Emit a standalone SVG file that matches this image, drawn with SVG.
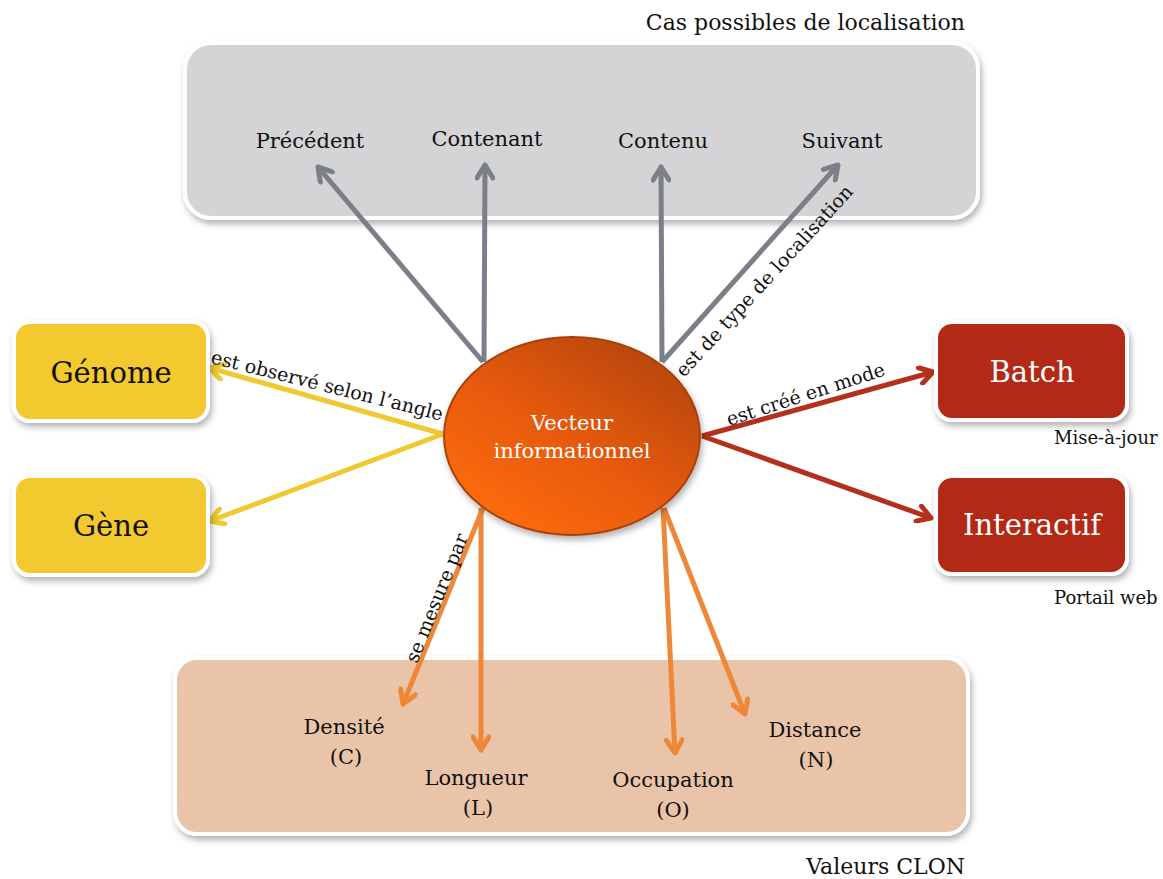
<svg xmlns="http://www.w3.org/2000/svg" width="1163" height="879" viewBox="0 0 1163 879">
<style>
text{font-family:"DejaVu Serif","Liberation Serif",serif;fill:#111;}
.lbl{font-size:21px;text-anchor:middle;}
.edge{font-size:19px;}
.sub{font-size:18px;}
.cap{font-size:22px;}
.wt{fill:#fff;}
.big{font-size:29px;text-anchor:middle;}
.box{stroke:#fff;stroke-width:4;filter:url(#sh);}
.gray{stroke:#7b7f87;stroke-width:5;fill:none;marker-end:url(#mG);}
.yel{stroke:#f0c832;stroke-width:5;fill:none;marker-end:url(#mY);}
.red{stroke:#b5301c;stroke-width:5;fill:none;marker-end:url(#mR);}
.ora{stroke:#ee8838;stroke-width:5;fill:none;marker-end:url(#mO);}
</style>
<defs>
<filter id="sh" x="-10%" y="-10%" width="130%" height="140%">
<feDropShadow dx="2" dy="4" stdDeviation="3" flood-color="#000" flood-opacity="0.3"/>
</filter>
<linearGradient id="eg" x1="0.2" y1="0.9" x2="0.85" y2="0.1">
<stop offset="0" stop-color="#fb6a0a"/>
<stop offset="0.45" stop-color="#e85a08"/>
<stop offset="1" stop-color="#b8470c"/>
</linearGradient>
<marker id="mG" viewBox="0 0 20 20" refX="17" refY="10" markerWidth="20" markerHeight="20" markerUnits="userSpaceOnUse" orient="auto"><path d="M4,2 L17,10 L4,18" fill="none" stroke="#7b7f87" stroke-width="5" stroke-linecap="round" stroke-linejoin="round"/></marker>
<marker id="mY" viewBox="0 0 20 20" refX="17" refY="10" markerWidth="20" markerHeight="20" markerUnits="userSpaceOnUse" orient="auto"><path d="M4,2 L17,10 L4,18" fill="none" stroke="#f0c832" stroke-width="5" stroke-linecap="round" stroke-linejoin="round"/></marker>
<marker id="mR" viewBox="0 0 20 20" refX="17" refY="10" markerWidth="20" markerHeight="20" markerUnits="userSpaceOnUse" orient="auto"><path d="M4,2 L17,10 L4,18" fill="none" stroke="#b5301c" stroke-width="5" stroke-linecap="round" stroke-linejoin="round"/></marker>
<marker id="mO" viewBox="0 0 20 20" refX="17" refY="10" markerWidth="20" markerHeight="20" markerUnits="userSpaceOnUse" orient="auto"><path d="M4,2 L17,10 L4,18" fill="none" stroke="#ee8838" stroke-width="5" stroke-linecap="round" stroke-linejoin="round"/></marker>
</defs>
<rect width="1163" height="879" fill="#fff"/>

<g id="groupe-localisation">
<rect x="185" y="43" width="793" height="175" rx="26" fill="#d4d4d6" class="box"/>
<text class="cap" x="965" y="30" text-anchor="end">Cas possibles de localisation</text>
</g>
<g id="groupe-clon">
<rect x="175" y="658" width="793" height="176" rx="22" fill="#e9c4a9" class="box"/>
<text class="cap" x="965" y="874" text-anchor="end">Valeurs CLON</text>
</g>

<g id="connecteurs">
<path class="gray" d="M483,362 L318,167"/>
<path class="gray" d="M484,362 L485,165"/>
<path class="gray" d="M662,362 L661,167"/>
<path class="gray" d="M662,362 L838,165"/>
<path class="yel" d="M443,434 L210,368"/>
<path class="yel" d="M443,434 L210,521"/>
<path class="red" d="M702,436 L933,372"/>
<path class="red" d="M702,436 L931,518"/>
<path class="ora" d="M483,508 L403,704"/>
<path class="ora" d="M481,508 L481,750"/>
<path class="ora" d="M663,508 L675,753"/>
<path class="ora" d="M664,508 L745,714"/>
<text class="edge" transform="translate(684,378) rotate(-47.5)">est de type de localisation</text>
<text class="edge" transform="translate(210,363) rotate(14)">est observé selon l’angle</text>
<text class="edge" transform="translate(729,426) rotate(-18)">est créé en mode</text>
<text class="edge" transform="translate(417,664) rotate(-68)">se mesure par</text>
</g>

<g id="precedent"><text class="lbl" x="310" y="148">Précédent</text></g>
<g id="contenant"><text class="lbl" x="487" y="146">Contenant</text></g>
<g id="contenu"><text class="lbl" x="663" y="148">Contenu</text></g>
<g id="suivant"><text class="lbl" x="842" y="148">Suivant</text></g>

<g id="vecteur">
<ellipse cx="572" cy="436" rx="128" ry="99" fill="url(#eg)" stroke="#a8420c" stroke-width="2" filter="url(#sh)"/>
<text class="lbl wt" x="572" y="430">Vecteur</text>
<text class="lbl wt" x="572" y="458">informationnel</text>
</g>

<g id="genome">
<rect x="14" y="322" width="194" height="99" rx="16" fill="#f2c92f" class="box"/>
<text class="big" x="111" y="383">Génome</text>
</g>
<g id="gene">
<rect x="14" y="476" width="194" height="99" rx="16" fill="#f2c92f" class="box"/>
<text class="big" x="111" y="536">Gène</text>
</g>
<g id="batch">
<rect x="936" y="322" width="191" height="98" rx="16" fill="#b22b17" class="box"/>
<text class="big wt" x="1032" y="382">Batch</text>
<text class="sub" x="1054" y="444">Mise-à-jour</text>
</g>
<g id="interactif">
<rect x="936" y="476" width="191" height="98" rx="16" fill="#b22b17" class="box"/>
<text class="big wt" x="1032" y="535">Interactif</text>
<text class="sub" x="1054" y="604">Portail web</text>
</g>

<g id="densite"><text class="lbl" x="344" y="734">Densité</text><text class="lbl" x="346" y="764">(C)</text></g>
<g id="longueur"><text class="lbl" x="476" y="785">Longueur</text><text class="lbl" x="478" y="815">(L)</text></g>
<g id="occupation"><text class="lbl" x="673" y="787">Occupation</text><text class="lbl" x="673" y="817">(O)</text></g>
<g id="distance"><text class="lbl" x="815" y="737">Distance</text><text class="lbl" x="816" y="767">(N)</text></g>
</svg>
